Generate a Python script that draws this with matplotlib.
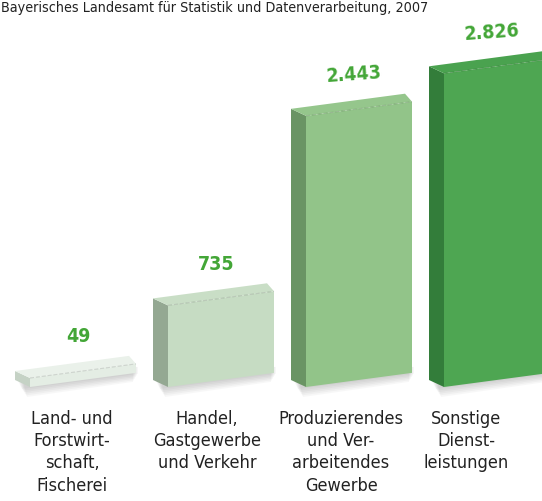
import matplotlib
matplotlib.use('Agg')
import matplotlib.pyplot as plt
from matplotlib.patches import Polygon

# Daten
kategorien = ['Land- und\nForstwirt-\nschaft,\nFischerei',
              'Handel,\nGastgewerbe\nund Verkehr',
              'Produzierendes\nund Ver-\narbeitendes\nGewerbe',
              'Sonstige\nDienst-\nleistungen']
werte = [49, 735, 2443, 2826]
wert_labels = ['49', '735', '2.443', '2.826']
quelle = 'Bayerisches Landesamt für Statistik und Datenverarbeitung, 2007'

# Farben (Front, Oberseite, Seite)
front = ['#e4ede4', '#c6dcc3', '#92c489', '#4ea652']
oben = ['#eaf1ea', '#c9dec6', '#95c68c', '#4aa24f']
seite = ['#c5d2c5', '#94a892', '#6a9464', '#337d3a']
gruen_text = '#43a637'

# Geometrie in Pixeln (Bild 542x501)
x_start = 30
abstand = 138
breite = 106
basis = 387
skala = 0.111           # Pixel pro Einheit
min_hoehe = 9
neigung = -14 / 105      # perspektivische Neigung der Front
tiefe_links = (-15, -7)
tiefe_rechts = (-7, -8)
label_versatz = [-11, -14, -18, -31]

schrift = dict(family=['DejaVu Sans'], stretch='condensed')

fig = plt.figure(figsize=(5.42, 5.01), dpi=100)
ax = fig.add_axes([0, 0, 1, 1])
ax.set_xlim(0, 542)
ax.set_ylim(501, 0)
ax.axis('off')

# Quelle
ax.text(1, 8, quelle, fontsize=10.3, color='#222222', ha='left', va='center', **schrift)

for i, w in enumerate(werte):
    x0 = x_start + i * abstand
    x1 = x0 + breite
    h = max(w * skala, min_hoehe)
    yb0 = basis
    yb1 = basis + neigung * breite
    yt0 = yb0 - h
    yt1 = yb1 - h

    # Schatten
    for k in range(6):
        d = 1 + k * 1.6
        ax.add_patch(Polygon([(x0 - 12 + k, yb0 - 6), (x1 + 2 - k, yb1 - 6),
                              (x1 + 2 - k, yb1 + d), (x0 - 8 + k, yb0 + d + 1)],
                             closed=True, facecolor='#000000', alpha=0.03, lw=0, zorder=1))

    # Seite links
    ax.add_patch(Polygon([(x0, yt0), (x0 + tiefe_links[0], yt0 + tiefe_links[1]),
                          (x0 + tiefe_links[0], yb0 + tiefe_links[1]), (x0, yb0)],
                         closed=True, facecolor=seite[i], lw=0, zorder=2))
    # Oberseite
    ax.add_patch(Polygon([(x0, yt0), (x1, yt1),
                          (x1 + tiefe_rechts[0], yt1 + tiefe_rechts[1]),
                          (x0 + tiefe_links[0], yt0 + tiefe_links[1])],
                         closed=True, facecolor=oben[i], lw=0, zorder=2))
    # Front
    ax.add_patch(Polygon([(x0, yb0), (x1, yb1), (x1, yt1), (x0, yt0)],
                         closed=True, facecolor=front[i], lw=0, zorder=3))
    # Kante oben
    ax.plot([x0, x1], [yt0, yt1], color='#000000', alpha=0.12, lw=0.8, ls='--', zorder=4)

    # Wertbeschriftung
    xm = x0 + breite / 2 - 5
    rot = 4 if w > 2000 else 0
    ax.text(xm, (yt0 + yt1) / 2 - 34, wert_labels[i], fontsize=14, fontweight='bold',
            color=gruen_text, ha='center', va='center', rotation=rot, **schrift)

    # Kategorie
    ax.text(x0 + breite / 2 + label_versatz[i], 410, kategorien[i], fontsize=13,
            color='#222222', ha='center', va='top', linespacing=1.3, **schrift)

fig.savefig('out.png', dpi=100, facecolor='white')
